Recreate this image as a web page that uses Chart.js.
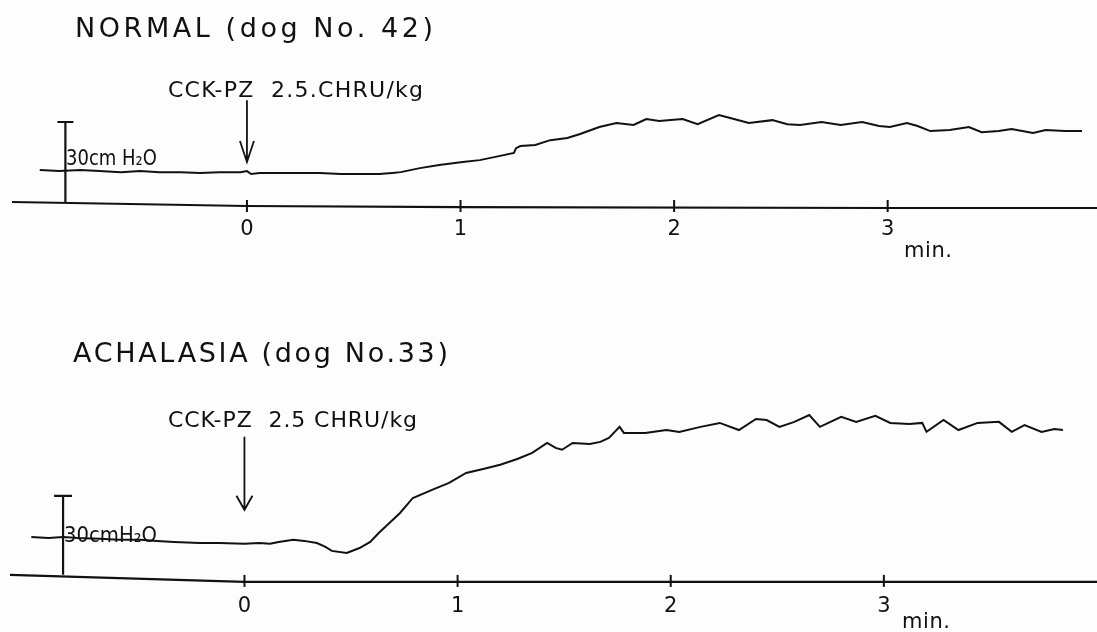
<!DOCTYPE html>
<html>
<head>
<meta charset="utf-8">
<script src="https://cdn.jsdelivr.net/npm/chart.js@4.4.1/dist/chart.umd.min.js"></script>
<style>
    html, body { margin: 0; padding: 0; background: #fdfdfd; }
    .panel { position: relative; width: 1097px; height: 316px; }
</style>
</head>
<body>
<div class="panel"><canvas id="normalChart" width="1097" height="316"></canvas></div>
<div class="panel"><canvas id="achalasiaChart" width="1097" height="316"></canvas></div>
<script>
const timeTicks = [0, 1, 2, 3];

// NORMAL (dog No. 42): time in min, pressure in cmH2O above the baseline
const normalTime = [-0.97, -0.88, -0.78, -0.69, -0.59, -0.50, -0.41, -0.31, -0.22, -0.13, -0.03, 0.00, 0.02, 0.06, 0.15, 0.25, 0.34, 0.44, 0.53, 0.62, 0.68, 0.72, 0.81, 0.90, 1.01, 1.09, 1.18, 1.25, 1.26, 1.28, 1.35, 1.42, 1.50, 1.56, 1.65, 1.73, 1.81, 1.84, 1.87, 1.93, 1.97, 2.04, 2.11, 2.21, 2.28, 2.35, 2.46, 2.53, 2.59, 2.69, 2.78, 2.88, 2.96, 3.01, 3.09, 3.14, 3.20, 3.29, 3.38, 3.44, 3.52, 3.58, 3.68, 3.74, 3.83, 3.91];
const normalPressure = [13.5, 13.1, 13.5, 13.1, 12.7, 13.1, 12.7, 12.7, 12.4, 12.7, 12.7, 13.1, 12.0, 12.4, 12.4, 12.4, 12.4, 12.0, 12.0, 12.0, 12.4, 12.7, 14.2, 15.4, 16.5, 17.2, 18.7, 19.9, 21.7, 22.5, 22.9, 24.7, 25.5, 27.0, 29.6, 31.1, 30.4, 31.5, 32.6, 31.9, 32.2, 32.6, 30.7, 34.1, 32.6, 31.1, 32.2, 30.7, 30.4, 31.5, 30.4, 31.5, 30.0, 29.6, 31.1, 30.0, 28.1, 28.5, 29.6, 27.7, 28.1, 28.9, 27.4, 28.5, 28.1, 28.1];
const normalBaseTime = [-1.1, 0, 1, 3, 3.98];
const normalBase = [1.5, 0, -0.4, -0.75, -0.75];

// ACHALASIA (dog No. 33)
const achalasiaTime = [-1.00, -0.92, -0.85, -0.78, -0.68, -0.59, -0.49, -0.41, -0.33, -0.21, -0.12, 0.00, 0.07, 0.12, 0.16, 0.23, 0.28, 0.34, 0.38, 0.41, 0.48, 0.54, 0.59, 0.63, 0.68, 0.73, 0.79, 0.88, 0.96, 1.04, 1.12, 1.20, 1.28, 1.35, 1.42, 1.46, 1.49, 1.54, 1.62, 1.67, 1.71, 1.76, 1.78, 1.88, 1.98, 2.04, 2.14, 2.23, 2.32, 2.40, 2.45, 2.51, 2.58, 2.65, 2.70, 2.80, 2.87, 2.96, 3.03, 3.12, 3.18, 3.20, 3.28, 3.35, 3.44, 3.54, 3.60, 3.66, 3.74, 3.80, 3.84];
const achalasiaPressure = [16.7, 16.3, 16.7, 16.3, 16.0, 15.6, 15.6, 15.2, 14.8, 14.4, 14.4, 14.1, 14.4, 14.1, 14.8, 15.6, 15.2, 14.4, 12.9, 11.4, 10.6, 12.5, 14.8, 18.2, 22.0, 25.8, 31.5, 34.6, 37.2, 41.0, 42.5, 44.1, 46.3, 48.6, 52.4, 50.5, 49.8, 52.4, 52.0, 52.8, 54.3, 58.5, 56.2, 56.2, 57.3, 56.6, 58.5, 60.0, 57.3, 61.5, 61.1, 58.5, 60.4, 63.0, 58.5, 62.3, 60.4, 62.7, 60.0, 59.6, 60.0, 56.6, 61.1, 57.3, 60.0, 60.4, 56.6, 59.2, 56.6, 57.7, 57.3];
const achalasiaBaseTime = [-1.1, 0, 4.0];
const achalasiaBase = [2.3, -0.4, -0.4];

const INK = '#111111';
const FONT = "'DejaVu Sans', sans-serif";

function toPoints(xs, ys) {
    return xs.map((x, i) => ({ x: x, y: ys[i] }));
}

// draw text so that it spans the given width (spacing if short, squeeze if long)
function fitText(ctx, item) {
    ctx.save();
    ctx.font = item.size + 'px ' + FONT;
    ctx.fillStyle = INK;
    ctx.textBaseline = 'alphabetic';
    ctx.textAlign = 'left';
    const w = ctx.measureText(item.text).width;
    if (w > item.w) {
        ctx.translate(item.x, item.y);
        ctx.scale(item.w / w, 1);
        ctx.fillText(item.text, 0, 0);
    } else {
        ctx.letterSpacing = ((item.w - w) / (item.text.length - 1)).toFixed(2) + 'px';
        ctx.fillText(item.text, item.x, item.y);
    }
    ctx.restore();
}

const sketchPlugin = {
    id: 'sketch',
    afterDatasetsDraw(chart, args, opts) {
        const ctx = chart.ctx;
        const xs = chart.scales.x;
        const ys = chart.scales.y;
        ctx.save();
        ctx.strokeStyle = INK;
        ctx.lineCap = 'butt';

        // tick marks crossing the time axis
        ctx.lineWidth = 2;
        const y0 = ys.getPixelForValue(0);
        timeTicks.forEach(v => {
            const px = xs.getPixelForValue(v);
            ctx.beginPath();
            ctx.moveTo(px, y0 - 6);
            ctx.lineTo(px, y0 + 6);
            ctx.stroke();
        });

        // 30 cmH2O calibration bar
        const bar = opts.bar;
        const bx = xs.getPixelForValue(bar.t);
        const bTop = ys.getPixelForValue(bar.to);
        ctx.lineWidth = 2.2;
        ctx.beginPath();
        ctx.moveTo(bx, ys.getPixelForValue(bar.from));
        ctx.lineTo(bx, bTop);
        ctx.moveTo(bx - bar.cap, bTop);
        ctx.lineTo(bx + bar.cap, bTop);
        ctx.stroke();

        // injection arrow
        const ar = opts.arrow;
        const ax = xs.getPixelForValue(ar.t);
        const aTip = ys.getPixelForValue(ar.to);
        ctx.lineWidth = 1.8;
        ctx.beginPath();
        ctx.moveTo(ax, ys.getPixelForValue(ar.from));
        ctx.lineTo(ax, aTip);
        ctx.moveTo(ax - ar.headW, aTip - ar.headH);
        ctx.lineTo(ax, aTip);
        ctx.lineTo(ax + ar.headW, aTip - ar.headH);
        ctx.stroke();
        ctx.restore();

        opts.texts.forEach(item => fitText(ctx, item));
    }
};

function makeChart(canvasId, trace, base, ranges, sketch) {
    const ctx = document.getElementById(canvasId).getContext('2d');
    return new Chart(ctx, {
        type: 'line',
        data: {
            datasets: [
                {
                    label: 'pressure',
                    data: trace,
                    borderColor: INK,
                    borderWidth: 2,
                    pointRadius: 0,
                    tension: 0
                },
                {
                    label: 'baseline',
                    data: base,
                    borderColor: INK,
                    borderWidth: 2.2,
                    pointRadius: 0,
                    tension: 0
                }
            ]
        },
        options: {
            responsive: false,
            animation: false,
            devicePixelRatio: 1,
            layout: { padding: { left: ranges.padLeft, right: 0, top: 0, bottom: 0 } },
            plugins: {
                legend: { display: false },
                tooltip: { enabled: false },
                sketch: sketch
            },
            scales: {
                x: {
                    type: 'linear',
                    min: ranges.xMin,
                    max: ranges.xMax,
                    position: { y: 0 },
                    border: { display: false },
                    grid: { display: false, drawTicks: false },
                    afterBuildTicks: scale => {
                        scale.ticks = timeTicks.map(v => ({ value: v }));
                    },
                    ticks: {
                        color: INK,
                        padding: ranges.labelPad,
                        maxRotation: 0,
                        autoSkip: false,
                        font: { family: FONT, size: 21 }
                    }
                },
                y: {
                    type: 'linear',
                    display: false,
                    min: ranges.yMin,
                    max: ranges.yMax
                }
            }
        },
        plugins: [sketchPlugin]
    });
}

makeChart('normalChart',
    toPoints(normalTime, normalPressure),
    toPoints(normalBaseTime, normalBase),
    { padLeft: 12, xMin: -1.1, xMax: 3.98, yMin: -41.25, yMax: 77.25, labelPad: 11 },
    {
        bar: { t: -0.85, from: 1.5, to: 31.5, cap: 8 },
        arrow: { t: 0, from: 39.7, to: 16.5, headW: 7, headH: 21 },
        texts: [
            { text: 'NORMAL (dog No. 42)', x: 75, y: 37, w: 358, size: 27 },
            { text: 'CCK-PZ  2.5.CHRU/kg', x: 168, y: 97, w: 255, size: 22 },
            { text: '30cm H\u2082O', x: 66, y: 165, w: 91, size: 22 },
            { text: 'min.', x: 904, y: 257, w: 48, size: 21 }
        ]
    });

makeChart('achalasiaChart',
    toPoints(achalasiaTime, achalasiaPressure),
    toPoints(achalasiaBaseTime, achalasiaBase),
    { padLeft: 10, xMin: -1.1, xMax: 4.0, yMin: -19.4, yMax: 100.6, labelPad: 13 },
    {
        bar: { t: -0.851, from: 2.3, to: 32.3, cap: 9 },
        arrow: { t: 0, from: 54.7, to: 27.0, headW: 8, headH: 14 },
        texts: [
            { text: 'ACHALASIA (dog No.33)', x: 73, y: 46, w: 375, size: 27 },
            { text: 'CCK-PZ  2.5 CHRU/kg', x: 168, y: 111, w: 249, size: 22 },
            { text: '30cmH\u2082O', x: 64, y: 226, w: 93, size: 22 },
            { text: 'min.', x: 902, y: 312, w: 48, size: 21 }
        ]
    });
</script>
</body>
</html>
